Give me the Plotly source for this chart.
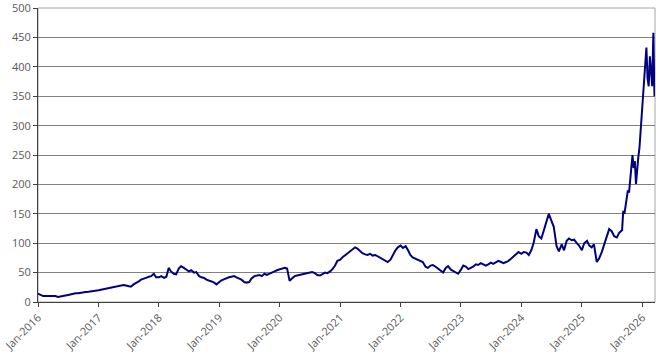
import pandas as pd
import plotly.graph_objects as go

# Semi-monthly values (1st and 15th of each month), Jan-2016 .. Aug-2025
v2016 = [14, 12, 10, 10, 10, 10, 9.5, 10, 8.5, 9, 10, 11, 12, 13, 14, 15, 15, 16, 17, 17, 17.5, 18, 18, 19]
v2017 = [20, 21, 22, 22, 23, 24, 25, 26, 27, 27, 29, 28, 27, 26, 30, 32, 35, 38, 39, 41, 43, 44, 48, 42]
v2018 = [42, 44, 41, 43, 58, 52, 48, 47, 57, 61, 58, 55, 52, 54, 50, 51, 44, 42, 41, 38, 37, 35, 33, 30]
v2019 = [34, 37, 39, 41, 42, 43, 44, 42, 40, 38, 34, 33, 34, 40, 44, 45, 46, 44, 48, 46, 48, 49, 52, 54]
v2020 = [55, 56, 58, 57, 36, 40, 44, 45, 46, 48, 49, 50, 50, 51, 49, 46, 45, 48, 50, 49, 52, 56, 62, 70]
v2021 = [72, 76, 80, 84, 87, 90, 93, 91, 86, 83, 81, 80, 82, 79, 80, 78, 75, 73, 70, 68, 72, 80, 88, 93]
v2022 = [96, 92, 95, 88, 80, 76, 74, 72, 70, 68, 60, 58, 62, 63, 60, 57, 54, 50, 58, 61, 55, 53, 50, 48]
v2023 = [55, 62, 60, 56, 58, 60, 64, 63, 66, 64, 62, 64, 67, 65, 68, 70, 68, 66, 68, 70, 74, 78, 82, 85]
v2024 = [82, 85, 84, 80, 88, 100, 124, 112, 108, 122, 135, 150, 138, 128, 95, 86, 98, 88, 104, 108, 105, 106, 100, 96]
v2025a = [88, 100, 104, 96, 93, 98, 68, 74, 85, 98, 112, 124, 120, 112, 110, 118]

# Weekly values (Mondays) Sep-2025 .. Mar-2026
v_weekly = [122, 155, 150, 162, 178, 190, 186, 205, 220, 250, 228, 240, 201, 230, 246, 262,
            290, 305, 345, 372, 392, 433, 380, 367, 418, 395, 367, 458, 350]

semi_vals = v2016 + v2017 + v2018 + v2019 + v2020 + v2021 + v2022 + v2023 + v2024 + v2025a
semi_dates = pd.date_range("2016-01-01", periods=len(semi_vals), freq="SMS")
weekly_dates = pd.date_range("2025-09-01", periods=len(v_weekly), freq="W-MON")

dates = list(semi_dates) + list(weekly_dates)
values = semi_vals + v_weekly

y_ticks = [0, 50, 100, 150, 200, 250, 300, 350, 400, 450, 500]

fig = go.Figure()
fig.add_trace(go.Scatter(x=dates, y=values, mode="lines",
                         line=dict(color="#000080", width=2), hoverinfo="skip"))

font_family = "Open Sans, DejaVu Sans, sans-serif"
fig.update_layout(
    width=665, height=354,
    margin=dict(l=38, r=10, t=8, b=52, autoexpand=False),
    paper_bgcolor="white", plot_bgcolor="white",
    showlegend=False,
    font=dict(family=font_family, size=11, color="#595959"),
    xaxis=dict(
        type="date",
        range=["2016-01-01", "2026-03-19"],
        tick0="2016-01-01", dtick="M12", tickformat="%b-%Y",
        tickangle=-45, automargin=False, ticklabeloverflow="allow",
        ticks="outside", ticklen=4, tickcolor="#404040",
        showline=True, linecolor="#404040", linewidth=1,
        showgrid=False, zeroline=False,
        tickfont=dict(size=11, color="#595959"),
    ),
    yaxis=dict(
        range=[0, 500.2], tickvals=y_ticks, automargin=False, ticklabeloverflow="allow",
        ticks="outside", ticklen=4, tickcolor="#404040",
        showline=True, linecolor="#404040", linewidth=1,
        showgrid=True, gridcolor="#808080", gridwidth=1,
        zeroline=False,
        tickfont=dict(size=11, color="#595959"),
    ),
    shapes=[dict(type="rect", xref="paper", yref="paper", x0=0, x1=1, y0=0, y1=1,
                 line=dict(color="#A6A6A6", width=1), fillcolor="rgba(0,0,0,0)", layer="below")],
)

fig.write_html("out.html")
